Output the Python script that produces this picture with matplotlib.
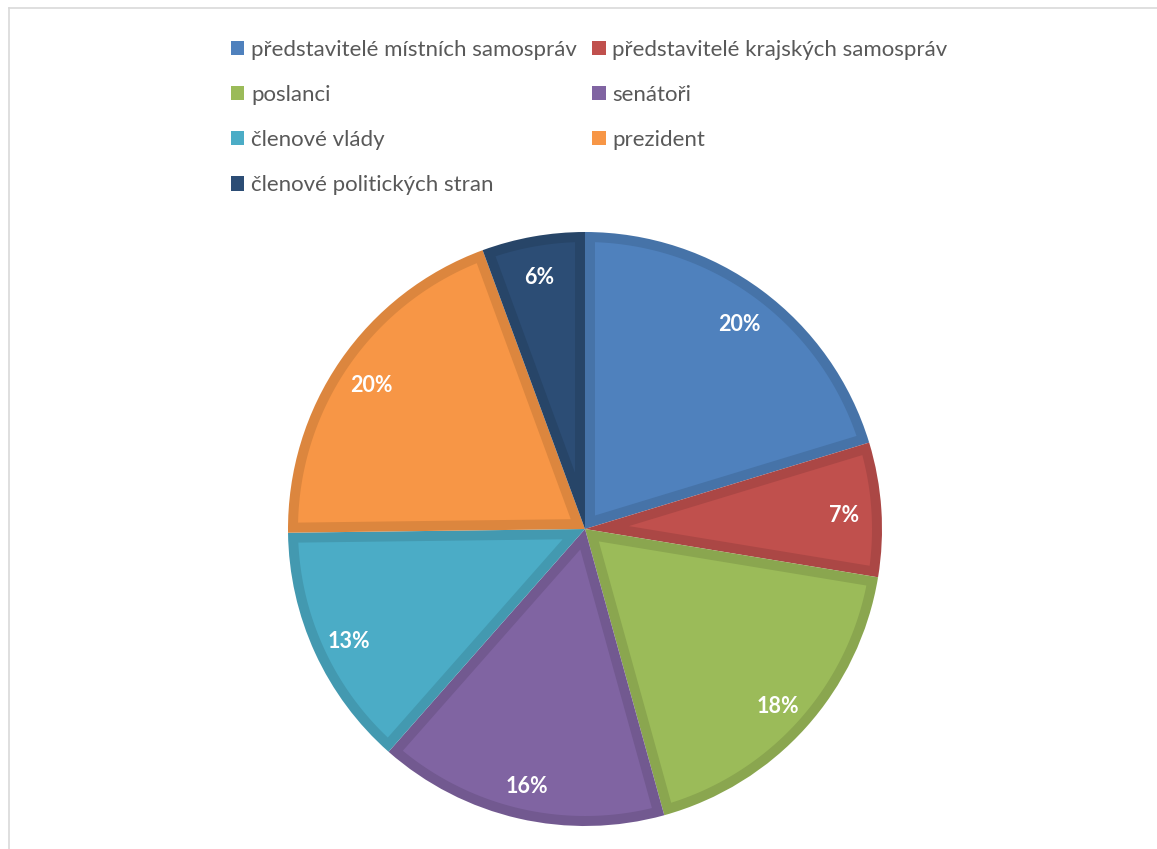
import matplotlib
matplotlib.use("Agg")
import numpy as np
import matplotlib.pyplot as plt
from matplotlib.patches import Patch, Polygon
from matplotlib.lines import Line2D
import matplotlib.colors as mcolors
import matplotlib.transforms as mtransforms

categories = ["představitelé místních samospráv", "představitelé krajských samospráv",
              "poslanci", "senátoři", "členové vlády", "prezident",
              "členové politických stran"]
values = [20.3, 7.3, 18.1, 15.8, 13.3, 19.6, 5.6]
colors = ["#4F81BD", "#C0504D", "#9BBB59", "#8064A2", "#4BACC6", "#F79646", "#2C4D75"]

plt.rcParams['font.family'] = ['Lato', 'DejaVu Sans']

W, H = 1157, 849
fig = plt.figure(figsize=(W / 100, H / 100), dpi=100)
fig.patch.set_facecolor("white")

cx, cy, R = 585, 529, 297
ax = fig.add_axes([(cx - R) / W, (H - cy - R) / H, 2 * R / W, 2 * R / H])

def darker(c, f=0.89):
    r, g, b = mcolors.to_rgb(c)
    return (r * f, g * f, b * f)

wedges, texts, autotexts = ax.pie(values, colors=[darker(c) for c in colors], startangle=90,
                                  counterclock=False, radius=1, autopct="%.0f%%",
                                  pctdistance=0.875,
                                  wedgeprops=dict(linewidth=0),
                                  textprops=dict(color="white", fontsize=15.5,
                                                 fontweight="bold", zorder=5))
shift = mtransforms.offset_copy(ax.transData, fig=fig, x=0, y=-4, units="dots")
for t in autotexts:
    t.set_transform(shift)

# lighter inner fill inset from each wedge boundary (band of darker shade around it)
band = 10.0 / R
for w, c in zip(wedges, colors):
    t1, t2 = np.radians(w.theta1), np.radians(w.theta2)
    r = w.r
    x0, y0 = w.center
    half = (t2 - t1) / 2
    mid = (t1 + t2) / 2
    apex_d = band / np.sin(half)
    apex = (x0 + apex_d * np.cos(mid), y0 + apex_d * np.sin(mid))
    a = np.arcsin(band / (r - band))
    ts = np.linspace(t1 + a, t2 - a, 200)
    pts = [apex] + [(x0 + (r - band) * np.cos(t), y0 + (r - band) * np.sin(t)) for t in ts]
    ax.add_patch(Polygon(pts, closed=True, facecolor=c, edgecolor="none", zorder=2))

ax.set_xlim(-1, 1)
ax.set_ylim(-1, 1)
ax.axis("off")

handles = [Patch(facecolor=c, edgecolor="none") for c in colors]
order = [0, 2, 4, 6, 1, 3, 5]
leg = fig.legend([handles[i] for i in order], [categories[i] for i in order],
                 ncol=2, loc="upper left", bbox_to_anchor=(231 / W, 1 - 40 / H),
                 frameon=False, fontsize=16, handlelength=0.6, handleheight=0.6,
                 handletextpad=0.3, labelspacing=1.13, columnspacing=0.7,
                 borderaxespad=0, borderpad=0)
for t in leg.get_texts():
    t.set_color("#595959")

# chart-area border
fig.add_artist(Line2D([8.5 / W, 8.5 / W], [0, 1 - 7.5 / H], color="#D9D9D9", lw=1.2))
fig.add_artist(Line2D([8.5 / W, 1], [1 - 7.5 / H, 1 - 7.5 / H], color="#D9D9D9", lw=1.2))

fig.savefig("out.png", dpi=100, facecolor="white")
